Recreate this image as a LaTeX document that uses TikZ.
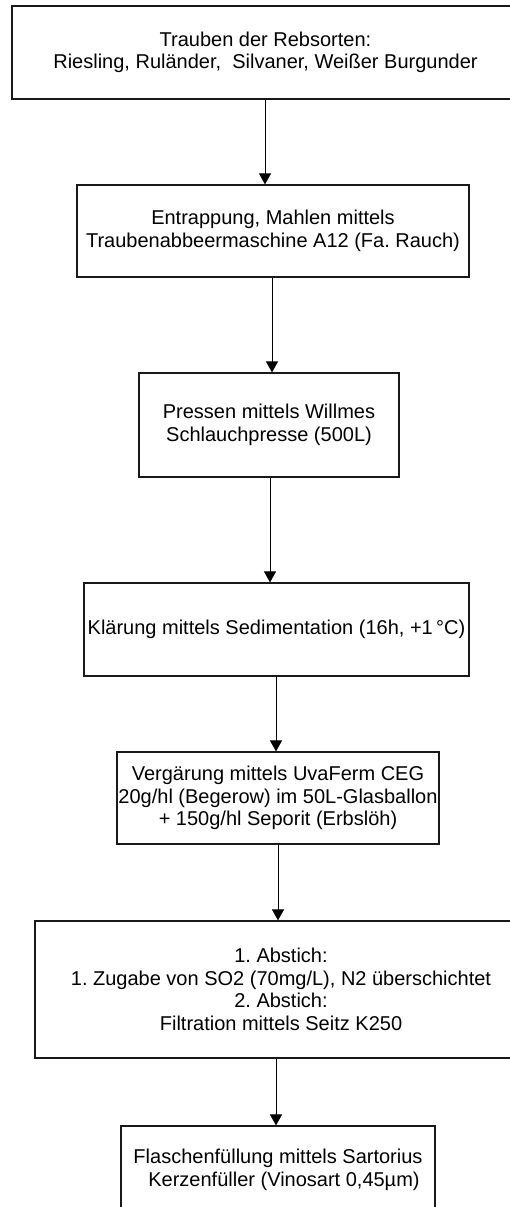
\documentclass[tikz,border=0pt]{standalone}
\usepackage{fontspec}
\setmainfont{Liberation Sans}
\usetikzlibrary{arrows.meta}
\frenchspacing
\tikzset{
  procbox/.style={draw=black!90, line width=1.2pt, rectangle, inner sep=0pt, align=center,
    font=\fontsize{20}{22.5}\selectfont\frenchspacing},
  arr/.style={draw=black, line width=0.9pt, -{Triangle[length=11pt,width=12pt]}}
}
\begin{document}
\begin{tikzpicture}[x=1pt,y=-1pt]
\useasboundingbox (0,0) rectangle (509,1207);
\fill[white] (0,0) rectangle (509,1207);
\node[procbox, minimum width=507pt, minimum height=93pt] (b1) at (265.5,52.5)
  {Trauben der Rebsorten:\\Riesling, Ruländer,~ Silvaner, Weißer Burgunder};
\node[procbox, minimum width=392pt, minimum height=92pt] (b2) at (273,231)
  {Entrappung, Mahlen mittels\\Traubenabbeermaschine A12 (Fa. Rauch)};
\node[procbox, minimum width=260pt, minimum height=104pt] (b3) at (269,425)
  {Pressen mittels Willmes\\Schlauchpresse (500L)};
\node[procbox, minimum width=385pt, minimum height=93pt] (b4) at (276.5,629.5)
  {Klärung mittels Sedimentation (16h, +1\,°C)};
\node[procbox, minimum width=322pt, minimum height=92pt] (b5) at (278,798)
  {Vergärung mittels UvaFerm CEG\\20g/hl (Begerow) im 50L-Glasballon\\+ 150g/hl Seporit (Erbslöh)};
\node[procbox, minimum width=492pt, minimum height=137pt] (b6) at (281,989.5)
  {1. Abstich:\\1. Zugabe von SO2 (70mg/L), N2 überschichtet\\2. Abstich:\\Filtration mittels Seitz K250};
\node[procbox, minimum width=314pt, minimum height=88pt] (b7) at (278,1170)
  {Flaschenfüllung mittels Sartorius\\\hspace*{0.6em}Kerzenfüller (Vinosart 0,45µm)};
\coordinate (a1) at (265,0);
\coordinate (a2) at (272,0);
\coordinate (a3) at (270,0);
\coordinate (a4) at (276,0);
\coordinate (a5) at (278,0);
\coordinate (a6) at (276,0);
\draw[arr] (b1.south -| a1) -- (b2.north -| a1);
\draw[arr] (b2.south -| a2) -- (b3.north -| a2);
\draw[arr] (b3.south -| a3) -- (b4.north -| a3);
\draw[arr] (b4.south -| a4) -- (b5.north -| a4);
\draw[arr] (b5.south -| a5) -- (b6.north -| a5);
\draw[arr] (b6.south -| a6) -- (b7.north -| a6);
\end{tikzpicture}
\end{document}
